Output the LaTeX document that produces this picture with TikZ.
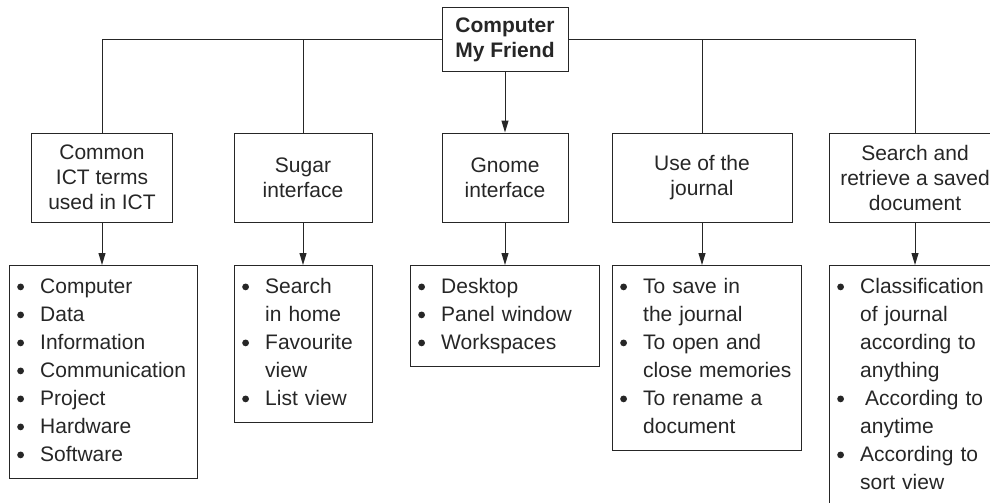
\documentclass[tikz,border=0pt]{standalone}
\usepackage{fontspec}
\setmainfont{Liberation Sans}
\usetikzlibrary{arrows.meta}
\newcommand{\itm}{\strut\makebox[23pt][l]{\tikz[baseline=0pt]\fill (3.6pt,6.3pt) circle (3.4pt);}}
\newcommand{\nxt}{\strut\hspace*{23pt}}

\begin{document}
\begin{tikzpicture}[x=1pt,y=-1pt,line width=1pt,color=black!85,
  head/.style={draw,align=center,minimum height=89pt,font=\fontsize{21}{25}\selectfont},
  list/.style={draw,anchor=north west,align=left,inner xsep=8pt,inner ysep=8.4pt,
    font=\fontsize{21}{28}\selectfont},
  >={Triangle[length=12pt,width=7pt]}]
\path[use as bounding box,clip] (0,0) rectangle (990,503);
% root
\node[head,minimum width=126pt,minimum height=63pt,font=\fontsize{21}{25}\selectfont\bfseries]
  (root) at (505,39.5) {Computer\\ My Friend};
% topics
\node[head,minimum width=141pt] (t1) at (102,177.5) {Common\\ ICT terms\\ used in ICT};
\node[head,minimum width=138pt] (t2) at (303,177.5) {Sugar\\ interface};
\node[head,minimum width=126pt] (t3) at (505,177.5) {Gnome\\ interface};
\node[head,minimum width=180pt] (t4) at (702,177.5) {Use of the\\ journal};
\node[head,minimum width=172pt] (t5) at (915,177.5) {Search and\\ retrieve a saved\\ document};
% lists
\node[list,text width=172pt] (l1) at (9,265)
  {\itm Computer\\ \itm Data\\ \itm Information\\ \itm Communication\\
   \itm Project\\ \itm Hardware\\ \itm Software};
\node[list,text width=122pt] (l2) at (234,265)
  {\itm Search\\ \nxt in home\\ \itm Favourite\\ \nxt view\\ \itm List view};
\node[list,text width=173pt] (l3) at (410,265)
  {\itm Desktop\\ \itm Panel window\\ \itm Workspaces};
\node[list,text width=173pt] (l4) at (612,265)
  {\itm To save in\\ \nxt the journal\\ \itm To open and\\ \nxt close memories\\
   \itm To rename a\\ \nxt document};
\node[list,text width=156pt] (l5) at (829,265)
  {\itm Classification\\ \nxt of journal\\ \nxt according to\\ \nxt anything\\
   \itm\hspace{5pt}According to\\ \nxt anytime\\ \itm According to\\ \nxt sort view};
% tree lines
\draw (root.west) -| (t1.north)
      (root.east) -| (t5.north)
      (t2.north) -- (t2.north |- root.west)
      (t4.north) -- (t4.north |- root.east);
\draw[->] (root) -- (t3);
\foreach \i in {1,...,5}
  \draw[->] (t\i.south) -- (t\i.south |- l\i.north);
\end{tikzpicture}
\end{document}
